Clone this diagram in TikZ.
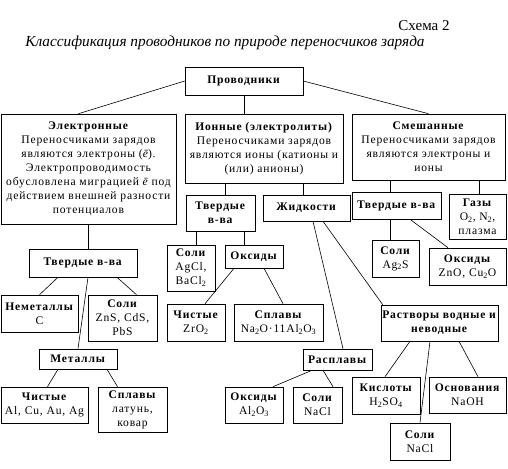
\documentclass[tikz,border=0pt]{standalone}
\usepackage{fontspec}
\setmainfont[LetterSpace = 7]{Liberation Serif}
\newfontfamily\titlefont{Liberation Serif}
\tikzset{box/.style 2 args = {draw, rectangle, align = center, inner sep = 0,
                              minimum width = #1, minimum height = #2}}
\tikzset{txt/.style = {font = \fontsize{11.6}{14}\selectfont}}
\newcommand{\el}{{\itshape ē}}

\begin{document}
\begin{tikzpicture}[x = 1pt, y = -1pt, txt, line width = 0.6pt]
    \useasboundingbox (0, 0) rectangle (508, 468);

    \node (schema) at (424, 26) {\titlefont\fontsize{15}{16}\selectfont Схема 2};
    \node (title) at (225, 43) {\titlefont\fontsize{15.3}{16}\selectfont\itshape Классификация проводников по природе переносчиков заряда};

    \node [box = {118pt}{28pt}] (prov) at (244, 81) {\textbf{Проводники}};

    \node [box = {175pt}{110pt}] (elec) at (88.5, 169)
        {\textbf{Электронные}\\ Переносчиками зарядов\\ являются электроны (\el).\\ Электропроводимость\\
         обусловлена миграцией \el{} под\\ действием внешней разности\\ потенциалов};
    \node [box = {158pt}{69pt}] (ion) at (264, 148.5)
        {\textbf{Ионные (электролиты)}\\ Переносчиками зарядов\\ являются ионы (катионы и\\ (или) анионы)};
    \node [box = {153pt}{66pt}] (mix) at (428.5, 147)
        {\textbf{Смешанные}\\ Переносчиками зарядов\\ являются электроны и\\ ионы};

    \node [box = {108pt}{28pt}] (tv1) at (83, 263) {\textbf{Твердые в-ва}};
    \node [box = {77pt}{37pt}] (nemet) at (39.5, 313.5) {\textbf{Неметаллы}\\ C};
    \node [box = {69pt}{46pt}] (soli1) at (122.5, 318) {\textbf{Соли}\\ ZnS, CdS,\\ PbS};
    \node [box = {78pt}{20pt}] (met) at (78, 359) {\textbf{Металлы}};
    \node [box = {87pt}{36pt}] (chist1) at (44.5, 405) {\textbf{Чистые}\\ Al, Cu, Au, Ag};
    \node [box = {69pt}{45pt}] (spl1) at (132.5, 409.5) {\textbf{Сплавы}\\ латунь,\\ ковар};

    \node [box = {69pt}{36pt}] (tv2) at (220.5, 213) {\textbf{Твердые}\\ \textbf{в-ва}};
    \node [box = {87pt}{26pt}] (zhid) at (306.5, 208) {\textbf{Жидкости}};
    \node [box = {48pt}{46pt}] (soli2) at (191, 268) {\textbf{Соли}\\ AgCl,\\ BaCl\textsubscript{2}};
    \node [box = {58pt}{23pt}] (oks2) at (254, 256.5) {\textbf{Оксиды}};
    \node [box = {58pt}{37pt}] (chist2) at (196, 322.5) {\textbf{Чистые}\\ ZrO\textsubscript{2}};
    \node [box = {89pt}{37pt}] (spl2) at (278.5, 322.5)
        {\textbf{Сплавы}\\ Na\textsubscript{2}O·11Al\textsubscript{2}O\textsubscript{3}};
    \node [box = {69pt}{21pt}] (raspl) at (337.5, 359.5) {\textbf{Расплавы}};
    \node [box = {58pt}{36pt}] (oks3) at (254, 405) {\textbf{Оксиды}\\ Al\textsubscript{2}O\textsubscript{3}};
    \node [box = {49pt}{36pt}] (soli3) at (317.5, 405) {\textbf{Соли}\\ NaCl};

    \node [box = {89pt}{27pt}] (tv3) at (396.5, 205.5) {\textbf{Твердые в-ва}};
    \node [box = {57pt}{45pt}] (gaz) at (477.5, 216.5) {\textbf{Газы}\\ O\textsubscript{2}, N\textsubscript{2},\\ плазма};
    \node [box = {47pt}{37pt}] (soli4) at (395.5, 258.5) {\textbf{Соли}\\ Ag\textsubscript{2}S};
    \node [box = {77pt}{37pt}] (oks4) at (467.5, 266.5) {\textbf{Оксиды}\\ ZnO, Cu\textsubscript{2}O};
    \node [box = {117pt}{36pt}] (rastv) at (439.5, 323) {\textbf{Растворы водные и}\\ \textbf{неводные}};
    \node [box = {68pt}{37pt}] (kisl) at (386, 395.5) {\textbf{Кислоты}\\ H\textsubscript{2}SO\textsubscript{4}};
    \node [box = {77pt}{36pt}] (osn) at (467.5, 395) {\textbf{Основания}\\ NaOH};
    \node [box = {60pt}{37pt}] (soli5) at (420, 441.5) {\textbf{Соли}\\ NaCl};

    \draw (prov.west) -- ([xshift = -10pt]elec.north);
    \draw (prov.east) -- (mix.north);
    \draw (prov.south) -- (prov.south |- ion.north);

    \draw (elec.south) -- (elec.south |- tv1.north);
    \draw ([xshift = -25pt]tv1.south) -- (nemet.north);
    \draw ([xshift = 34pt]tv1.south) -- ([xshift = 14pt]soli1.north);
    \draw ([xshift = 5pt]tv1.south) -- (met.north);
    \draw ([xshift = -20pt]met.south) -- ([xshift = 3pt]chist1.north);
    \draw ([xshift = 29pt]met.south) -- ([xshift = -15pt]spl1.north);

    \draw ([xshift = -39pt]ion.south) coordinate (ionL) -- (ionL |- tv2.north);
    \draw ([xshift = 39pt]ion.south) coordinate (ionR) -- (ionR |- zhid.north);
    \draw ([xshift = -24.5pt]tv2.south) coordinate (tvL) -- (tvL |- soli2.north);
    \draw ([xshift = 23.5pt]tv2.south) coordinate (tvR) -- (tvR |- oks2.north);
    \draw ([xshift = -20pt]oks2.south) -- ([xshift = 9pt]chist2.north);
    \draw ([xshift = 10pt]oks2.south) -- ([xshift = 4.5pt]spl2.north);
    \draw ([xshift = 6.5pt]zhid.south) -- ([xshift = 5.5pt]raspl.north);
    \draw ([xshift = 16.5pt]zhid.south) -- ([xshift = 2pt]rastv.north west);
    \draw ([xshift = -25.5pt]raspl.south) -- ([xshift = 19pt]oks3.north);
    \draw ([xshift = -14.5pt]raspl.south) -- ([xshift = 15.5pt]soli3.north);

    \draw ([xshift = -38.5pt]mix.south) coordinate (mixL) -- (mixL |- tv3.north);
    \draw ([xshift = 50.5pt]mix.south) coordinate (mixR) -- (mixR |- gaz.north);
    \draw ([xshift = -6.5pt]tv3.south) coordinate (tv3L) -- (tv3L |- soli4.north);
    \draw ([xshift = 13.5pt]tv3.south) -- ([xshift = -19.5pt]oks4.north);
    \draw ([xshift = -29.5pt]rastv.south) -- ([xshift = -1pt]kisl.north);
    \draw ([xshift = -9.5pt]rastv.south) -- (soli5.north);
    \draw ([xshift = 19.5pt]rastv.south) -- ([xshift = 10.5pt]osn.north);
  \end{tikzpicture}
\end{document}
